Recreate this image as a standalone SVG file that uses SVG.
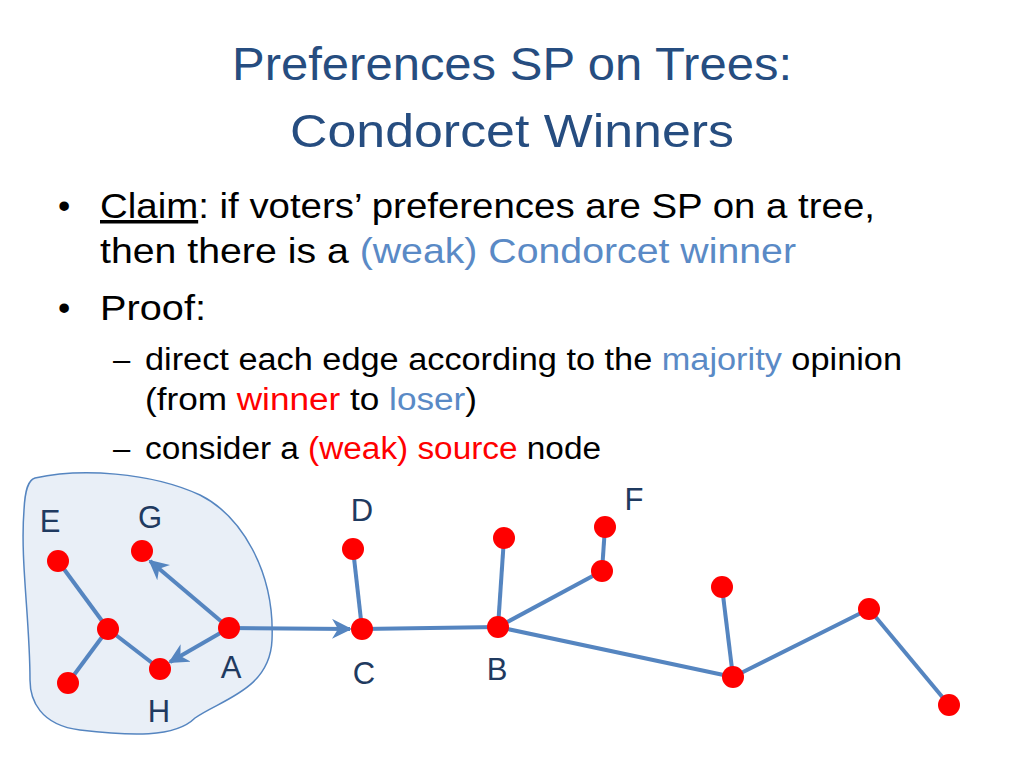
<svg xmlns="http://www.w3.org/2000/svg" width="1024" height="768" viewBox="0 0 1024 768">
<style>
text{font-family:"Liberation Sans",Arial,sans-serif;}
.t{font-size:47px;fill:#264d80;text-anchor:middle}
.b{font-size:35px;fill:#000}
.s{font-size:31px;fill:#000}
.lb{fill:#5a8ac6}
.r{fill:#ff0000}
.lab{font-size:31px;fill:#1f3a60;text-anchor:middle}
.e{stroke:#5585c0;stroke-width:4;fill:none}
.n{fill:#ff0000}
</style>
<defs><marker id="ar" viewBox="0 0 10 10" refX="9" refY="5" markerWidth="5" markerHeight="5" orient="auto" markerUnits="strokeWidth"><path d="M0,0 L10,5 L0,10 L3,5 Z" fill="#5585c0"/></marker></defs>
<rect width="1024" height="768" fill="#fff"/>
<text class="t" x="512" y="80" textLength="560" lengthAdjust="spacingAndGlyphs">Preferences SP on Trees:</text>
<text class="t" x="512" y="147" textLength="444" lengthAdjust="spacingAndGlyphs">Condorcet Winners</text>
<text class="b" x="58" y="218">•</text>
<text class="b" x="100" y="218" textLength="775" lengthAdjust="spacingAndGlyphs"><tspan text-decoration="underline">Claim</tspan>: if voters’ preferences are SP on a tree,</text>
<text class="b" x="100" y="263" textLength="696" lengthAdjust="spacingAndGlyphs">then there is a <tspan class="lb">(weak) Condorcet winner</tspan></text>
<text class="b" x="58" y="320">•</text>
<text class="b" x="100" y="320" textLength="106" lengthAdjust="spacingAndGlyphs">Proof:</text>
<text class="s" x="113" y="370">–</text>
<text class="s" x="145" y="370" textLength="757" lengthAdjust="spacingAndGlyphs">direct each edge according to the <tspan class="lb">majority</tspan> opinion</text>
<text class="s" x="145" y="410" textLength="332" lengthAdjust="spacingAndGlyphs">(from <tspan class="r">winner</tspan> to <tspan class="lb">loser</tspan>)</text>
<text class="s" x="113" y="459">–</text>
<text class="s" x="145" y="459" textLength="456" lengthAdjust="spacingAndGlyphs">consider a <tspan class="r">(weak) source</tspan> node</text>
<path id="blob" d="M35,478 C80,468 150,472 200,495 C240,515 275,570 272,640 C270,690 220,700 195,718 C175,738 130,736 80,730 C40,725 30,700 30,680 C30,620 20,560 24,510 C25,490 28,480 35,478 Z" fill="#e9eff7" stroke="#5585c0" stroke-width="1.5"/>
<g id="connectors">
<line class="e" x1="58" y1="561" x2="108" y2="629"/>
<line class="e" x1="108" y1="629" x2="68" y2="683"/>
<line class="e" x1="108" y1="629" x2="160" y2="669"/>
<line class="e" x1="229" y1="628" x2="150" y2="561" marker-end="url(#ar)"/>
<line class="e" x1="229" y1="628" x2="170" y2="662" marker-end="url(#ar)"/>
<line class="e" x1="229" y1="628" x2="350" y2="629" marker-end="url(#ar)"/>
<line class="e" x1="353" y1="549" x2="362" y2="629"/>
<line class="e" x1="362" y1="629" x2="498" y2="627"/>
<line class="e" x1="498" y1="627" x2="504" y2="538"/>
<line class="e" x1="498" y1="627" x2="602" y2="571"/>
<line class="e" x1="602" y1="571" x2="605" y2="527"/>
<line class="e" x1="498" y1="627" x2="733" y2="677"/>
<line class="e" x1="722" y1="587" x2="733" y2="677"/>
<line class="e" x1="733" y1="677" x2="869" y2="609"/>
<line class="e" x1="869" y1="609" x2="949" y2="705"/>
</g>
<g id="nE"><circle class="n" cx="58" cy="561" r="11"/><text class="lab" x="50" y="532">E</text></g>
<g id="nG"><circle class="n" cx="142" cy="551" r="11"/><text class="lab" x="150" y="528">G</text></g>
<g id="nM"><circle class="n" cx="108" cy="629" r="11"/></g>
<g id="nL"><circle class="n" cx="68" cy="683" r="11"/></g>
<g id="nH"><circle class="n" cx="160" cy="669" r="11"/><text class="lab" x="159" y="722">H</text></g>
<g id="nA"><circle class="n" cx="229" cy="628" r="11"/><text class="lab" x="231" y="678">A</text></g>
<g id="nC"><circle class="n" cx="362" cy="629" r="11"/><text class="lab" x="364" y="684">C</text></g>
<g id="nD"><circle class="n" cx="353" cy="549" r="11"/><text class="lab" x="362" y="521">D</text></g>
<g id="nB"><circle class="n" cx="498" cy="627" r="11"/><text class="lab" x="497" y="680">B</text></g>
<g id="nB2"><circle class="n" cx="504" cy="538" r="11"/></g>
<g id="nF"><circle class="n" cx="605" cy="527" r="11"/><text class="lab" x="634" y="510">F</text></g>
<g id="nF2"><circle class="n" cx="602" cy="571" r="11"/></g>
<g id="nI"><circle class="n" cx="722" cy="587" r="11"/></g>
<g id="nJ"><circle class="n" cx="733" cy="677" r="11"/></g>
<g id="nK"><circle class="n" cx="869" cy="609" r="11"/></g>
<g id="nL2"><circle class="n" cx="949" cy="705" r="11"/></g>
</svg>
